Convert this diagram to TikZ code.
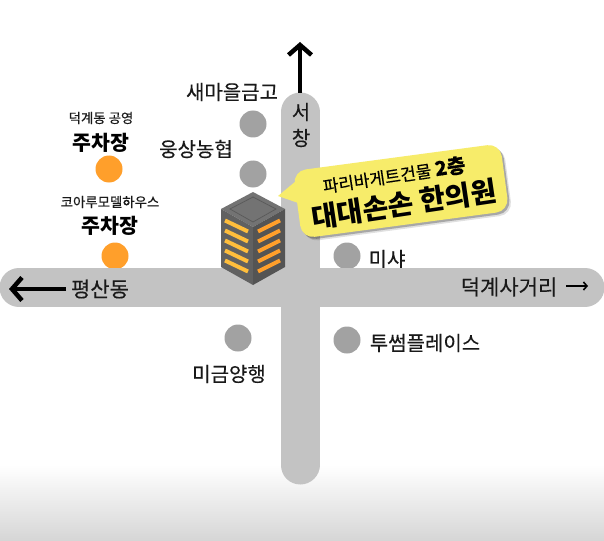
\documentclass[tikz,border=0pt]{standalone}
\usepackage{fontspec}
\setmainfont{Noto Sans CJK KR}
\newfontfamily\labelfont[FakeBold=0.35]{Noto Sans CJK KR}
\usetikzlibrary{arrows.meta}
\definecolor{RoadGray}{HTML}{C3C3C3}
\definecolor{SpotGray}{HTML}{A2A2A2}
\definecolor{ParkOrange}{HTML}{FF9F2B}
\definecolor{WindowYellow}{HTML}{FFBE3C}
\definecolor{BubbleYellow}{HTML}{F7EC6A}
\begin{document}
\begin{tikzpicture}[x=1pt,y=-1pt]
  \tikzstyle{RoadStyle}=[draw=RoadGray,line width=39pt,line cap=round]
  \tikzstyle{SpotStyle}=[circle,fill=SpotGray,minimum size=27pt,inner sep=0pt]
  \tikzstyle{ParkStyle}=[circle,fill=ParkOrange,minimum size=27pt,inner sep=0pt]
  \tikzstyle{LabelStyle}=[inner sep=0pt,font=\labelfont\fontsize{20}{22}\selectfont,text=black!90]
  \tikzstyle{RoadLabel}=[inner sep=0pt,font=\labelfont\fontsize{21}{23}\selectfont,text=black!90]
  \tikzstyle{SmallStyle}=[inner sep=0pt,font=\labelfont\fontsize{13.4}{15}\selectfont,text=black!90]
  \tikzstyle{ParkLabel}=[inner sep=0pt,font=\fontsize{20.5}{22}\selectfont\bfseries]
  \tikzstyle{ArrowStyle}=[line width=4.5pt,-{Straight Barb[length=10pt,width=23pt,line width=4.5pt]}]
  \useasboundingbox (0,0) rectangle (604,540);
  \fill[white] (0,0) rectangle (604,540);
  \shade[top color=white,bottom color=black!16] (0,465) rectangle (604,540);
  % spots above the road
  \node[SpotStyle] (nonghyup) at (253,174) {};
  \node[SpotStyle] (saemaul) at (253,124) {};
  \node[SpotStyle] (missha) at (347,256) {};
  \node[SpotStyle] (twosome) at (347,340) {};
  \node[SpotStyle] (migeum) at (238,338) {};
  \node[ParkStyle] (parkA) at (109,169) {};
  \node[ParkStyle] (parkB) at (115,256) {};
  \node[LabelStyle] (misshaL) at (387,259) {미샤};
  % roads
  \coordinate (roadW) at (19,287.5);
  \coordinate (roadE) at (585,287.5);
  \coordinate (roadN) at (300,112);
  \coordinate (roadS) at (300,465);
  \draw[RoadStyle] (roadW) -- (roadE);
  \draw[RoadStyle] (roadN) -- (roadS);
  % arrows
  \coordinate (northEnd) at (300,42);
  \coordinate (northStart) at (300,93);
  \coordinate (westEnd) at (9,289);
  \coordinate (westStart) at (66,289);
  \coordinate (eastStart) at (566,286);
  \coordinate (eastEnd) at (588,286);
  \draw[ArrowStyle] (northStart) -- (northEnd);
  \draw[ArrowStyle] (westStart) -- (westEnd);
  \draw[line width=1.6pt,-{Straight Barb[length=3.5pt,width=8pt,line width=1.6pt]}] (eastStart) -- (eastEnd);
  % labels
  \node[LabelStyle] (saemaulL) at (232,92) {새마을금고};
  \node[LabelStyle] (nonghyupL) at (196,149) {웅상농협};
  \node[LabelStyle] (seo) at (301,112) {서};
  \node[LabelStyle] (chang) at (301,138) {창};
  \node[SmallStyle] (parkAT) at (101,118) {덕계동 공영};
  \node[ParkLabel] (parkAL) at (101,143) {주차장};
  \node[SmallStyle] (parkBT) at (110,202) {코아루모델하우스};
  \node[ParkLabel] (parkBL) at (110,226) {주차장};
  \node[RoadLabel] (pyeongsan) at (100,289) {평산동};
  \node[RoadLabel] (deokgye) at (509,287) {덕계사거리};
  \node[LabelStyle] (twosomeL) at (425,343) {투썸플레이스};
  \node[LabelStyle] (migeumL) at (229,374) {미금양행};
  % building
  \fill[black!55] (253,192) -- (285,209) -- (253,227) -- (221,209) -- cycle;
  \draw[black!65,line width=0.7pt] (253,197) -- (276,209) -- (253,222) -- (230,209) -- cycle;
  \fill[black!62] (221,209) -- (253,227) -- (253,285) -- (221,267) -- cycle;
  \fill[black!67] (285,209) -- (253,227) -- (253,285) -- (285,267) -- cycle;
  \foreach \i in {0,...,4}{
    \draw[line width=4pt,color=WindowYellow] (225,220.5+10*\i) -- (248,231.5+10*\i);
    \draw[line width=4pt,color=ParkOrange] (258,231.5+10*\i) -- (280,220.5+10*\i);
  }
  % bubble
  \tikzstyle{BubbleShape}=[rectangle,rounded corners=13pt,minimum width=209pt,minimum height=68pt,inner sep=0pt,rotate=7.6]
  \node[BubbleShape,fill=black,opacity=0.12] (shadowA) at (404.5,194.5) {};
  \node[BubbleShape,fill=black,opacity=0.25] (shadowB) at (403,193) {};
  \fill[BubbleYellow] (278,196) -- (296,181) -- (304,205) -- cycle;
  \node[BubbleShape,fill=BubbleYellow] (bubble) at (401,191) {};
  \node[rotate=8.5,inner sep=0pt,font=\labelfont\fontsize{17}{19}\selectfont] (bubbleTop) at (394,175) {파리바게트건물 \textbf{\fontsize{20}{22}\selectfont 2층}};
  \node[rotate=8.5,inner sep=0pt,font=\fontsize{28}{30}\selectfont\bfseries] (bubbleMain) at (404,204) {대대손손 한의원};
\end{tikzpicture}
\end{document}
